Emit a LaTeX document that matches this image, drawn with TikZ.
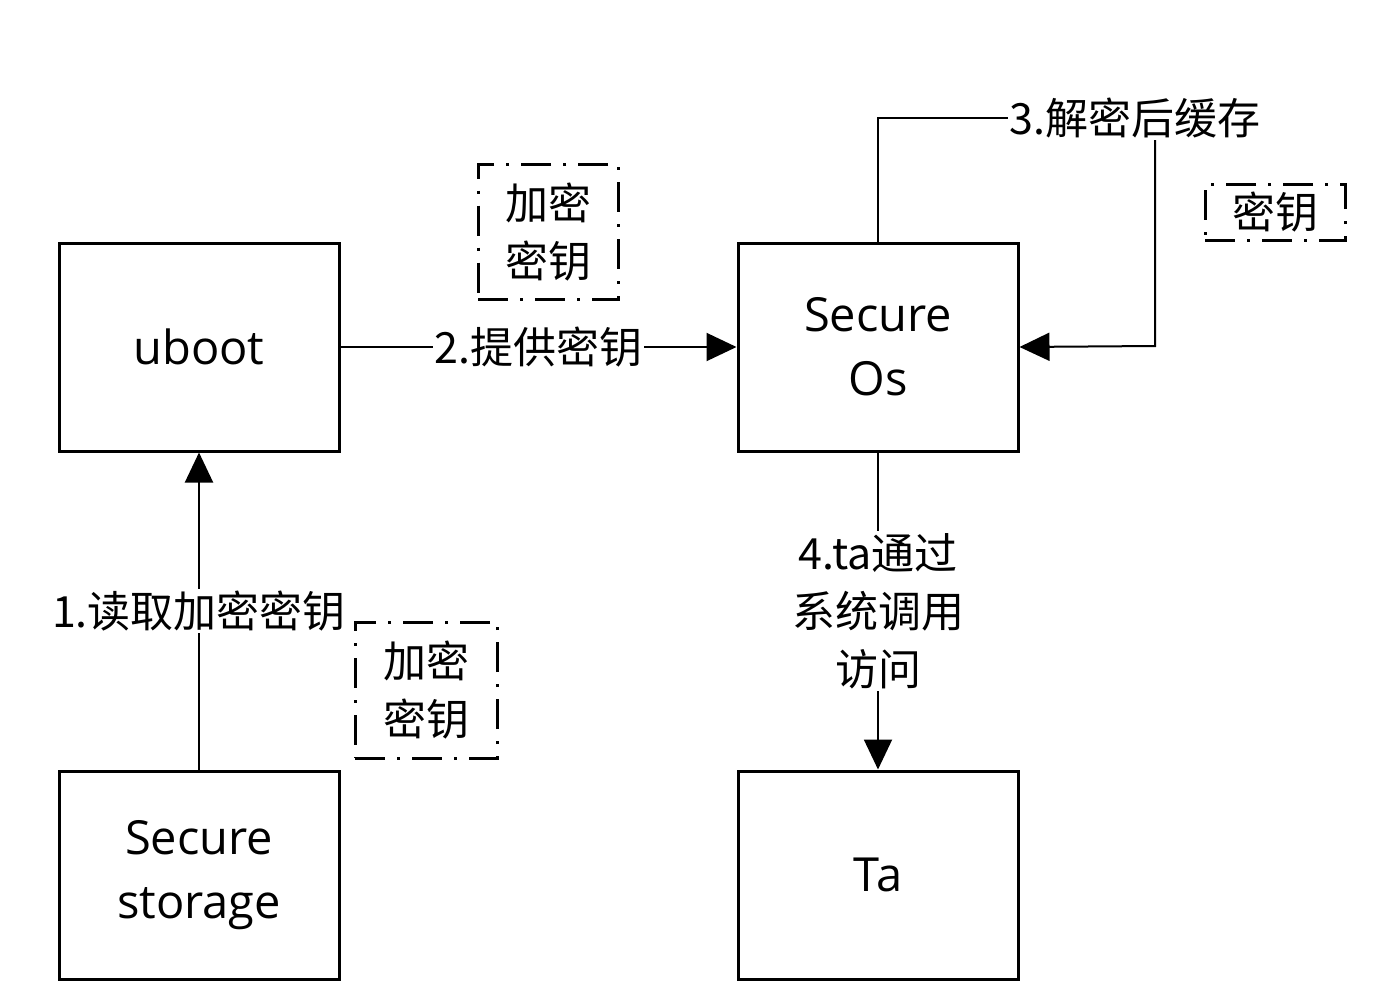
\documentclass[tikz,border=0pt]{standalone}
\usepackage{fontspec}
\setmainfont{Open Sans}
\newfontfamily\cjk{Noto Sans CJK SC}
\usetikzlibrary{arrows.meta}
\begin{document}
\begin{tikzpicture}[x=1pt,y=-1pt,
  blk/.style={draw,line width=3pt,minimum width=280pt,minimum height=208pt,inner sep=0pt,
    font=\fontsize{47}{64}\selectfont,align=center},
  conn/.style={line width=2pt,-{Triangle[length=30pt,width=28pt]}},
  lbl/.style={fill=white,inner sep=2pt,font=\cjk\fontsize{43}{58}\selectfont,align=center},
  keybox/.style={draw,line width=3pt,dash pattern=on 30pt off 12pt on 3pt off 12pt,
    inner sep=0pt,font=\cjk\fontsize{43}{58}\selectfont,align=center}]
\useasboundingbox (0,0) rectangle (1383,1004);
\node[blk] (uboot) at (199,347) {uboot};
\node[blk] (sos) at (878,347) {Secure\\Os};
\node[blk] (ss) at (199,875) {Secure\\storage};
\node[blk] (ta) at (878,875) {Ta};
\draw[conn] (ss.north) -- node[lbl] {1.读取加密密钥} (uboot.south);
\draw[conn] (uboot.east) -- node[lbl] {2.提供密钥} (sos.west);
\coordinate (c1) at (878,118);
\coordinate (c2) at (1155,118);
\coordinate (c3) at (1155,346);
\draw[line width=2pt] (sos.north) -- (c1) -- (c2);
\draw[conn] (c2) -- (c3) -- (sos.east);
\node[lbl] (l3) at (1135,118) {3.解密后缓存};
\draw[conn] (sos.south) -- node[lbl,pos=0.5] {4.ta通过\\系统调用\\访问} (ta.north);
\node[keybox,minimum width=140pt,minimum height=135pt] (k1) at (548,232) {加密\\密钥};
\node[keybox,minimum width=140pt,minimum height=56pt] (k2) at (1275,212) {密钥};
\node[keybox,minimum width=142pt,minimum height=136pt] (k3) at (426,690) {加密\\密钥};
\end{tikzpicture}
\end{document}
